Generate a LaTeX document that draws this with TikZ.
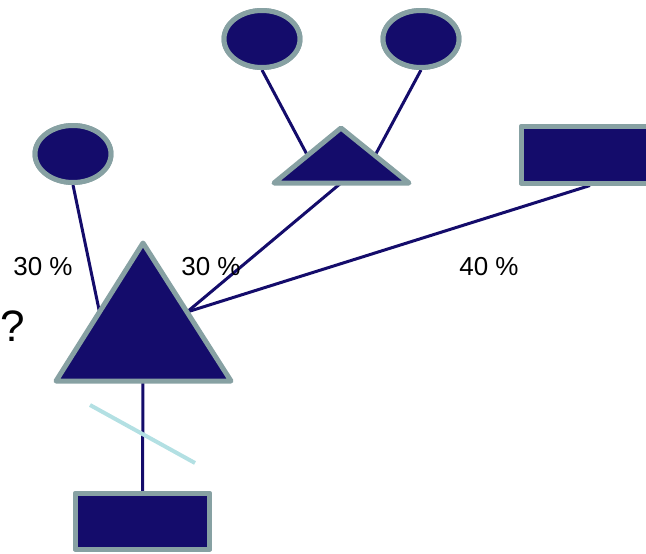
\documentclass[tikz,border=0pt]{standalone}
\usepackage{fontspec}
\setmainfont{Liberation Sans}
\usetikzlibrary{shapes.geometric,calc}
\definecolor{navy}{HTML}{140C6B}
\definecolor{rim}{HTML}{87A1A3}
\definecolor{crosscol}{HTML}{B3E0E3}
\begin{document}
\begin{tikzpicture}[x=1pt,y=-1pt,
  person/.style={draw=rim,fill=navy,line width=5pt,line join=round},
  oval/.style={person,ellipse,minimum width=76pt,minimum height=57pt,inner sep=0pt},
  box/.style={person,rectangle,inner sep=0pt},
  link/.style={draw=navy,line width=3pt},
  share/.style={font=\fontsize{26}{30}\selectfont,inner sep=0pt}]
\useasboundingbox (0,0) rectangle (646,554);

% corner points of the two triangles
\coordinate (bigtop) at (143,243);
\coordinate (bigl) at (56,381);
\coordinate (bigr) at (231,381);
\coordinate (smtop) at (341,128);
\coordinate (sml) at (274,183);
\coordinate (smr) at (409,183);

% attachment points on the triangle sides
\coordinate (bigin) at ($(bigtop)!0.5!(bigl)$);
\coordinate (bigout) at ($(bigtop)!0.5!(bigr)$);
\coordinate (bigbase) at (143,381);
\coordinate (smin) at ($(smtop)!0.5!(sml)$);
\coordinate (smout) at ($(smtop)!0.5!(smr)$);
\coordinate (smbase) at (341,183);

% ovals and boxes
\node[oval] (mum) at (73,154) {};
\node[oval] (gma) at (262,39) {};
\node[oval] (gpa) at (421,39) {};
\node[box,minimum width=126.5pt,minimum height=56.5pt] (donor) at (584.75,154.75) {};
\node[box,minimum width=134pt,minimum height=55.5pt] (child) at (142.5,521.25) {};
\coordinate (donorfoot) at ($(donor.south west)!0.54!(donor.south east)$);

% connecting lines, drawn beneath the shapes
\draw[link] (mum.south) -- (bigin);
\draw[link] (gma.south) -- (smin);
\draw[link] (gpa.south) -- (smout);
\draw[link] (smbase) -- (bigout);
\draw[link] (donorfoot) -- (bigout);
\draw[link] (bigbase) -- (child.north);

% redraw ovals and boxes over line ends
\node[oval] at (mum) {};
\node[oval] at (gma) {};
\node[oval] at (gpa) {};
\node[box,minimum width=126.5pt,minimum height=56.5pt] at (donor) {};
\node[box,minimum width=134pt,minimum height=55.5pt] at (child) {};

% triangles
\path[person] (bigtop) -- (bigl) -- (bigr) -- cycle;
\path[person] (smtop) -- (sml) -- (smr) -- cycle;

% cross stroke over the descent line
\draw[crosscol,line width=4pt] (90,405) -- (195,463);

% labels
\node[share] (p1) at (43,267) {30 \%};
\node[share] (p2) at (211,267) {30 \%};
\node[share] (p3) at (489,267) {40 \%};
\node[font=\fontsize{44}{50}\selectfont,inner sep=0pt] (q) at (13,326) {?};
\end{tikzpicture}
\end{document}
